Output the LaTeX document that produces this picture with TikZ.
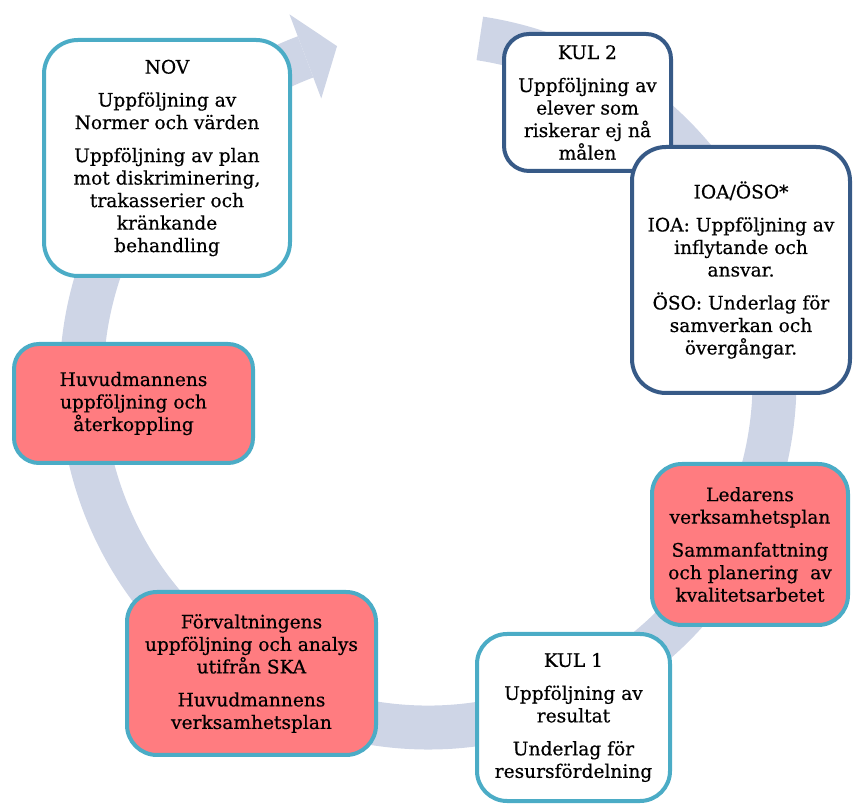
\documentclass[tikz,border=0pt]{standalone}
\usepackage{fontspec}
\setmainfont{DejaVu Serif}[FakeBold=0.5]
\usetikzlibrary{calc}
\definecolor{bandcol}{RGB}{206,213,230}
\definecolor{tealb}{RGB}{75,172,198}
\definecolor{navyb}{RGB}{55,90,135}
\definecolor{rosef}{RGB}{255,124,128}
\tikzset{
  box/.style={draw, line width=4pt, align=center, inner sep=0pt, text=black,
    font=\fontsize{18.6}{22.5}\selectfont},
  tealbox/.style={box, draw=tealb, fill=white},
  navybox/.style={box, draw=navyb, fill=white},
  redbox/.style={box, draw=tealb, fill=rosef},
}
\newcommand{\pg}{\\[10.5pt]}
\begin{document}
\begin{tikzpicture}[x=1pt,y=1pt]
\useasboundingbox (0,0) rectangle (853,805);
\coordinate (c) at (428,424);
% circular band
\fill[bandcol] ($(c)+(81.4:368.5)$) arc[start angle=81.4, end angle=-249.3, radius=368.5]
  -- ($(c)+(110.7:324.5)$) arc[start angle=110.7, end angle=441.4, radius=324.5] -- cycle;
% arrow head
\fill[bandcol] ($(c)+(110.7:392)$) -- ($(c)+(105.2:347)$) -- ($(c)+(110.7:302)$) -- cycle;

\node[tealbox, minimum width=246, minimum height=236, rounded corners=34] (nov) at (167,647)
 {NOV\pg Uppföljning av\\ Normer och värden\pg Uppföljning av plan\\ mot diskriminering,\\ trakasserier och\\ kränkande\\ behandling};
\node[navybox, minimum width=167, minimum height=137, rounded corners=25] (kul2) at (587.5,702.5)
 {KUL 2\pg Uppföljning av\\ elever som\\ riskerar ej nå\\ målen};
\node[navybox, minimum width=218, minimum height=246, rounded corners=34] (ioa) at (741,535)
 {IOA/ÖSO*\pg IOA: Uppföljning av\\ inflytande och\\ ansvar.\pg ÖSO: Underlag för\\ samverkan och\\ övergångar.};
\node[redbox, minimum width=239, minimum height=119, rounded corners=25] (huvud) at (133.5,401.5)
 {Huvudmannens\\ uppföljning och\\ återkoppling};
\node[redbox, minimum width=249, minimum height=163, rounded corners=30] (forv) at (251.5,131.5)
 {Förvaltningens\\ uppföljning och analys\\ utifrån SKA\pg Huvudmannens\\ verksamhetsplan};
\node[redbox, minimum width=196, minimum height=161, rounded corners=30] (led) at (750,260.5)
 {Ledarens\\ verksamhetsplan\pg Sammanfattning\\ och planering\ \ av\\ kvalitetsarbetet};
\node[tealbox, minimum width=193, minimum height=167, rounded corners=30] (kul1) at (573.5,87.5)
 {KUL 1\pg Uppföljning av\\ resultat\pg Underlag för\\ resursfördelning};
\end{tikzpicture}
\end{document}
